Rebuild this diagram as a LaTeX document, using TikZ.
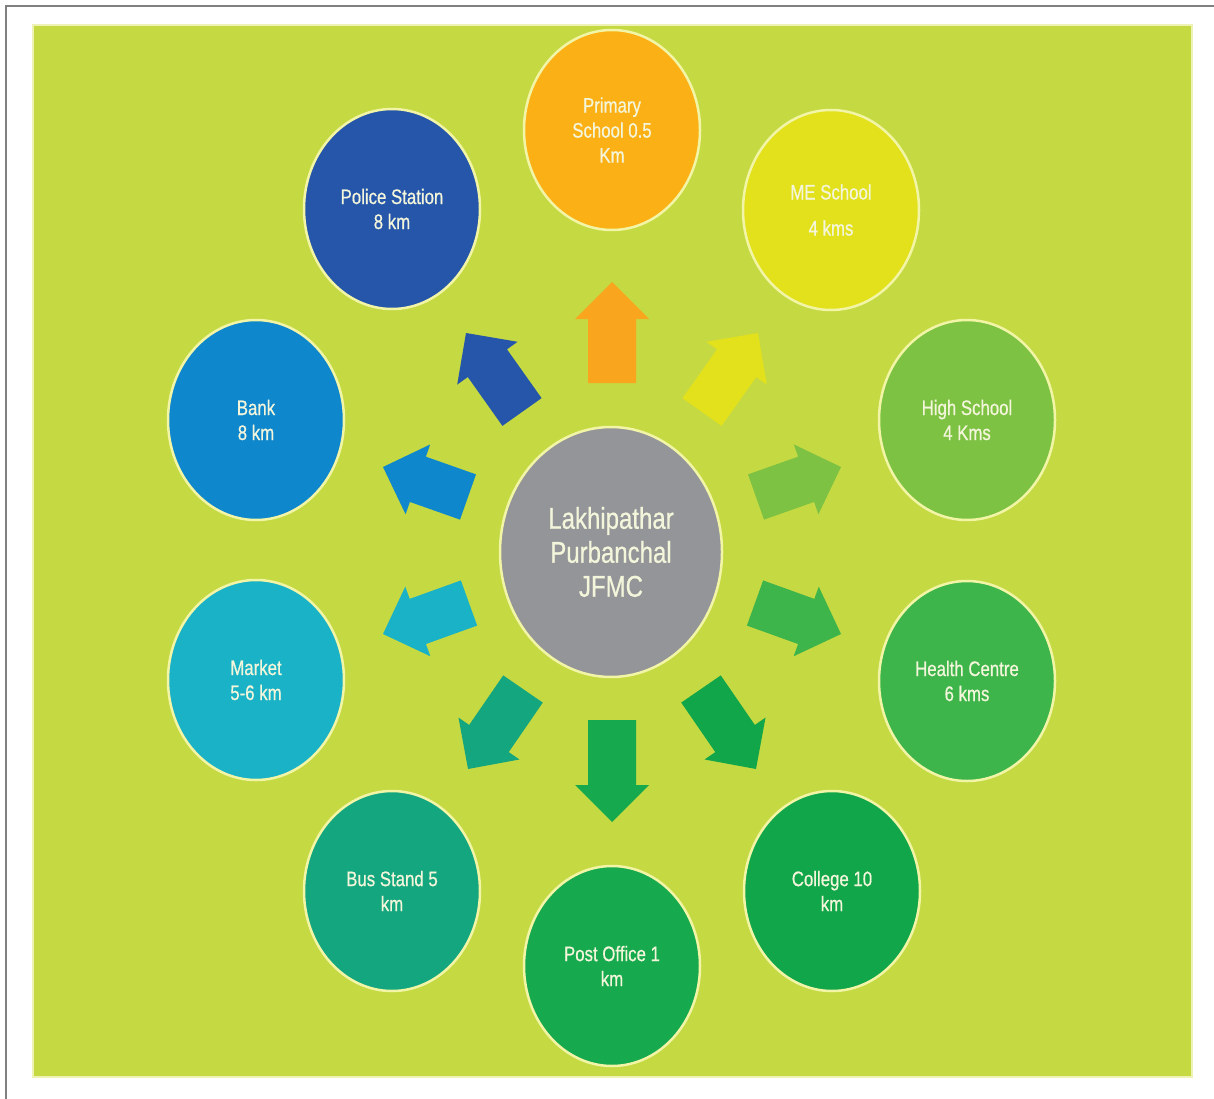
\documentclass[tikz,border=0pt]{standalone}
\usepackage{fontspec}
\newfontfamily\labfont{Liberation Sans}[FakeStretch=0.8,FakeBold=0.6]
\usetikzlibrary{shapes.geometric,calc}
\definecolor{bg}{HTML}{C5D943}
\definecolor{bgedge}{HTML}{EEF3B5}
\definecolor{ring}{HTML}{F2F5A6}
\definecolor{labtext}{HTML}{F4F6DC}
\definecolor{cPrim}{HTML}{FBB116}
\definecolor{aPrim}{HTML}{F9A51D}
\definecolor{cME}{HTML}{E3E11B}
\definecolor{cHigh}{HTML}{7DC242}
\definecolor{cHealth}{HTML}{3DB54A}
\definecolor{cCollege}{HTML}{12A64A}
\definecolor{cPost}{HTML}{17A94D}
\definecolor{cBus}{HTML}{14A67E}
\definecolor{cMarket}{HTML}{19B2C6}
\definecolor{cBank}{HTML}{0E87CD}
\definecolor{cPolice}{HTML}{2556A9}
\definecolor{cCenter}{HTML}{939598}
\definecolor{frame}{HTML}{808080}
\newcommand\blockarrow[3]{%
  \coordinate (hb) at ($(#2)!37pt!(#1)$);
  \fill[#3] ($(#1)!24pt!90:(#2)$) -- ($(hb)!24pt!90:(#2)$) -- ($(hb)!37pt!90:(#2)$)
    -- (#2) -- ($(hb)!37pt!-90:(#2)$) -- ($(hb)!24pt!-90:(#2)$)
    -- ($(#1)!24pt!-90:(#2)$) -- cycle;
}
\begin{document}
\begin{tikzpicture}[x=1pt,y=-1pt,
  spot/.style={ellipse, draw=ring, line width=2.5pt, minimum width=176pt,
    minimum height=200pt, inner sep=0pt, text=labtext, align=center,
    font=\labfont\fontsize{21}{25}\selectfont},
  hub/.style={ellipse, draw=ring, line width=2.5pt, fill=cCenter, minimum width=222pt,
    minimum height=250pt, inner sep=0pt, text=labtext, align=center,
    font=\labfont\fontsize{30}{34}\selectfont}]
\useasboundingbox (0,0) rectangle (1214,1099);
\fill[white] (0,0) rectangle (1214,1099);
\draw[frame, line width=2pt] (6,1099) -- (6,6) -- (1214,6);
\draw[fill=bg, draw=bgedge, line width=2pt] (33,25) rectangle (1192,1077);

% circles
\node[spot, fill=cPrim]   (prim)    at (612,130) {Primary\\School 0.5\\Km};
\node[spot, fill=cME]     (me)      at (831,210) {ME School\\[11pt]4 kms};
\node[spot, fill=cHigh]   (high)    at (967,420) {High School\\4 Kms};
\node[spot, fill=cHealth] (health)  at (967,681) {Health Centre\\6 kms};
\node[spot, fill=cCollege](college) at (832,891) {College 10\\km};
\node[spot, fill=cPost]   (post)    at (612,966) {Post Office 1\\km};
\node[spot, fill=cBus]    (bus)     at (392,891) {Bus Stand 5\\km};
\node[spot, fill=cMarket] (market)  at (256,680) {Market\\5-6 km};
\node[spot, fill=cBank]   (bank)    at (256,420) {Bank\\8 km};
\node[spot, fill=cPolice] (police)  at (392,209) {Police Station\\8 km};
\node[hub] (hubc) at (611,552) {Lakhipathar\\Purbanchal\\JFMC};

% arrow end points
\coordinate (t1) at (612,383); \coordinate (p1) at (612,282);
\coordinate (t2) at (702,412); \coordinate (p2) at (758,333);
\coordinate (t3) at (756,497); \coordinate (p3) at (841,467);
\coordinate (t4) at (755,603); \coordinate (p4) at (841,634);
\coordinate (t5) at (701,689); \coordinate (p5) at (756,769);
\coordinate (t6) at (612,720); \coordinate (p6) at (612,822);
\coordinate (t7) at (523,689); \coordinate (p7) at (468,769);
\coordinate (t8) at (469,603); \coordinate (p8) at (383,634);
\coordinate (t9) at (468,497); \coordinate (p9) at (383,467);
\coordinate (t10) at (522,412); \coordinate (p10) at (466,333);

\blockarrow{t1}{p1}{aPrim}
\blockarrow{t2}{p2}{cME}
\blockarrow{t3}{p3}{cHigh}
\blockarrow{t4}{p4}{cHealth}
\blockarrow{t5}{p5}{cCollege}
\blockarrow{t6}{p6}{cPost}
\blockarrow{t7}{p7}{cBus}
\blockarrow{t8}{p8}{cMarket}
\blockarrow{t9}{p9}{cBank}
\blockarrow{t10}{p10}{cPolice}
\end{tikzpicture}
\end{document}
